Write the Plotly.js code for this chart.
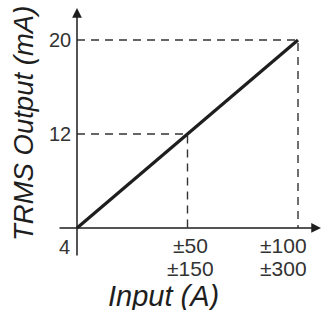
<!DOCTYPE html>
<html>
<head>
<meta charset="utf-8">
<script src="https://cdn.plot.ly/plotly-3.0.1.min.js"></script>
<style>html,body{margin:0;padding:0;background:#fff;}#chart{width:322px;height:312px;}</style>
</head>
<body>
<div id="chart"></div>
<script>
// Data
const inputVals = [0, 50, 100];
const outputVals = [4, 12, 20];
const xTickTop = ["±50", "±100"];
const xTickBottom = ["±150", "±300"];
const yTickLabels = ["4", "12", "20"];
const xTitle = "Input (A)";
const yTitle = "TRMS Output (mA)";

const FONT = "Liberation Sans, Arial, Helvetica, sans-serif";
const INK = "#1e1e1e";
const xRange = [-34.84, 110.86];
const yRange = [-3.15, 23.4];

const x0 = inputVals[0], y0 = outputVals[0];

// dashed guides from data
const gx = [], gy = [];
for (let i = 1; i < inputVals.length; i++) {
  gx.push(x0, inputVals[i], inputVals[i], null);
  gy.push(outputVals[i], outputVals[i], y0, null);
}

const traces = [
  {x: gx, y: gy, mode: "lines", line: {color: "#333", width: 1.4, dash: "8px,6px"}, hoverinfo: "skip"},
  {x: [inputVals[0], inputVals[inputVals.length - 1]], y: [outputVals[0], outputVals[outputVals.length - 1]],
   mode: "lines", line: {color: INK, width: 3.2}, hoverinfo: "skip"}
];

const ann = [];
// axis arrows
ann.push({x: x0, y: 22.72, ax: x0, ay: 1.53, xref: "x", yref: "y", axref: "x", ayref: "y",
  text: "", showarrow: true, arrowhead: 2, arrowsize: 1.3, arrowwidth: 1.5, arrowcolor: INK, standoff: 0});
ann.push({x: 110.4, y: y0, ax: -8.6, ay: y0, xref: "x", yref: "y", axref: "x", ayref: "y",
  text: "", showarrow: true, arrowhead: 2, arrowsize: 1.3, arrowwidth: 1.5, arrowcolor: INK, standoff: 0});

const tickFont = {family: FONT, size: 20, color: "#333"};
const xTickFont = {family: FONT, size: 21, color: "#333"};
// y tick labels
yTickLabels.forEach((t, i) => {
  const first = i === 0;
  ann.push({x: x0, y: outputVals[i], xref: "x", yref: "y", text: t, showarrow: false,
    xanchor: "right", yanchor: "middle", xshift: first ? -5 : -4, yshift: first ? -19 : 0, font: tickFont});
});
// x tick labels
const xShifts = [3, -15];
xTickTop.forEach((t, i) => {
  ann.push({x: inputVals[i + 1], y: y0, xref: "x", yref: "y", text: t, showarrow: false,
    xanchor: "center", yanchor: "middle", xshift: xShifts[i], yshift: -17, height: 22, font: xTickFont});
  ann.push({x: inputVals[i + 1], y: y0, xref: "x", yref: "y", text: xTickBottom[i], showarrow: false,
    xanchor: "center", yanchor: "middle", xshift: xShifts[i], yshift: -40, height: 22, font: xTickFont});
});
// titles
ann.push({x: 163 / 322, y: 1 - 296 / 312, xref: "paper", yref: "paper", text: xTitle, showarrow: false,
  xanchor: "center", yanchor: "middle", height: 28, font: {family: FONT, size: 29, color: INK, style: "italic"}});
ann.push({x: 24 / 322, y: 1 - 124 / 312, xref: "paper", yref: "paper", text: yTitle, showarrow: false,
  textangle: -90, xanchor: "center", yanchor: "middle", font: {family: FONT, size: 27.5, color: INK, style: "italic"}});

const layout = {
  width: 322, height: 312,
  margin: {l: 0, r: 0, t: 0, b: 0},
  paper_bgcolor: "#fff", plot_bgcolor: "#fff",
  showlegend: false,
  xaxis: {range: xRange, visible: false, fixedrange: true},
  yaxis: {range: yRange, visible: false, fixedrange: true},
  annotations: ann
};

Plotly.newPlot("chart", traces, layout, {staticPlot: true, displayModeBar: false});
</script>
</body>
</html>
